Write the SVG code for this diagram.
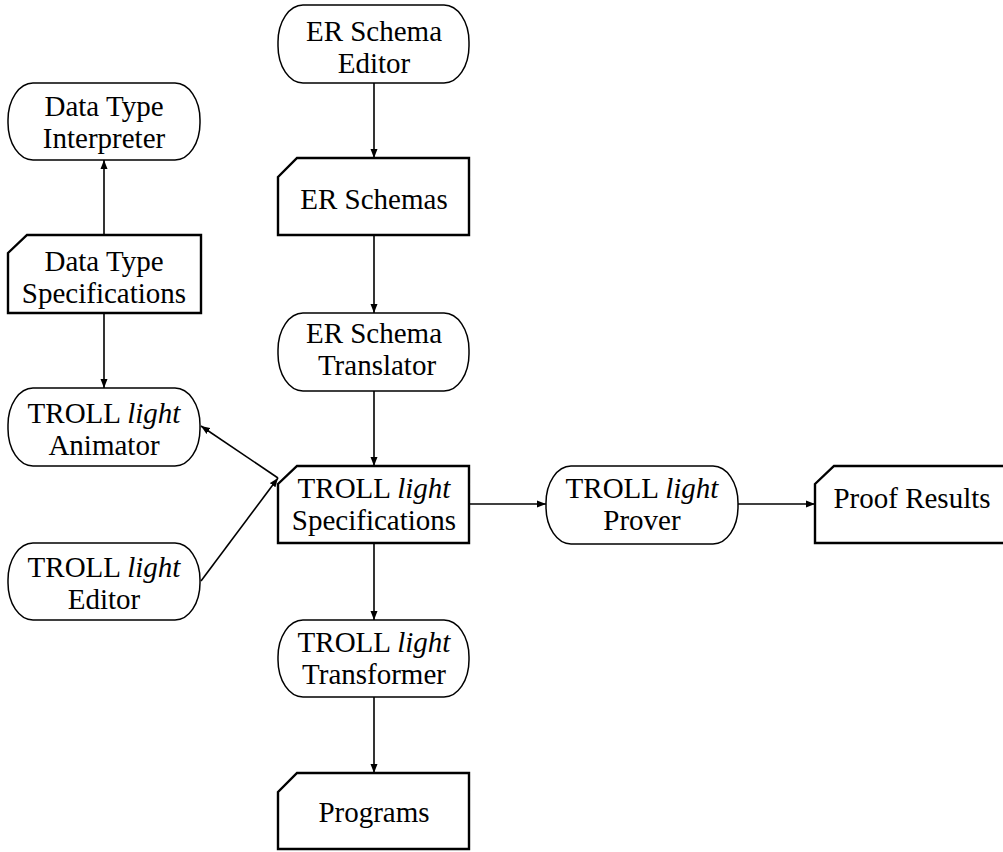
<svg xmlns="http://www.w3.org/2000/svg" width="1003" height="852" viewBox="0 0 1003 852">
<style>
.proc{fill:#fff;stroke:#000;stroke-width:1.5}
.doc{fill:#fff;stroke:#000;stroke-width:2.4;stroke-linejoin:miter}
.t{font-family:'Liberation Serif','DejaVu Serif',serif;font-size:29px;text-anchor:middle;fill:#000}
.i{font-style:italic}
.c{stroke:#000;stroke-width:1.6;fill:none}
</style>
<defs>
<marker id="ah" markerWidth="10" markerHeight="8" refX="9" refY="4" orient="auto" markerUnits="userSpaceOnUse">
<path d="M0,0.5 L9,4 L0,7.5 Z" fill="#000"/>
</marker>
</defs>
<g id="connectors">
<line class="c" x1="374" y1="83" x2="374" y2="158" marker-end="url(#ah)"/>
<line class="c" x1="374" y1="235" x2="374" y2="313" marker-end="url(#ah)"/>
<line class="c" x1="374" y1="391" x2="374" y2="466" marker-end="url(#ah)"/>
<line class="c" x1="374" y1="544" x2="374" y2="620" marker-end="url(#ah)"/>
<line class="c" x1="374" y1="697" x2="374" y2="773" marker-end="url(#ah)"/>
<line class="c" x1="104" y1="235" x2="104" y2="160" marker-end="url(#ah)"/>
<line class="c" x1="104" y1="313" x2="104" y2="388" marker-end="url(#ah)"/>
<line class="c" x1="278" y1="478" x2="201" y2="426" marker-end="url(#ah)"/>
<line class="c" x1="201" y1="581" x2="278" y2="478" marker-end="url(#ah)"/>
<line class="c" x1="469" y1="504" x2="546" y2="504" marker-end="url(#ah)"/>
<line class="c" x1="738" y1="504" x2="815" y2="504" marker-end="url(#ah)"/>
</g>
<g id="er-schema-editor">
<rect class="proc" x="278" y="5" width="191" height="78" rx="25" ry="37"/>
<text class="t" x="374" y="41">ER Schema</text>
<text class="t" x="374" y="73">Editor</text>
</g>
<g id="er-schemas">
<path class="doc" d="M278,177 L297,158 L469,158 L469,235 L278,235 Z"/>
<text class="t" x="374" y="209">ER Schemas</text>
</g>
<g id="er-schema-translator">
<rect class="proc" x="278" y="313" width="191" height="78" rx="25" ry="37"/>
<text class="t" x="374" y="343">ER Schema</text>
<text class="t" x="377" y="375">Translator</text>
</g>
<g id="troll-specifications">
<path class="doc" d="M278,484 L297,466 L469,466 L469,543 L278,543 Z"/>
<text class="t" x="374" y="498">TROLL <tspan class="i">light</tspan></text>
<text class="t" x="374" y="530">Specifications</text>
</g>
<g id="troll-transformer">
<rect class="proc" x="278" y="620" width="191" height="77" rx="25" ry="37"/>
<text class="t" x="374" y="652">TROLL <tspan class="i">light</tspan></text>
<text class="t" x="374" y="684">Transformer</text>
</g>
<g id="programs">
<path class="doc" d="M278,792 L297,773 L469,773 L469,849 L278,849 Z"/>
<text class="t" x="374" y="822">Programs</text>
</g>
<g id="data-type-interpreter">
<rect class="proc" x="8" y="83" width="192" height="77" rx="25" ry="37"/>
<text class="t" x="104" y="116">Data Type</text>
<text class="t" x="104" y="148">Interpreter</text>
</g>
<g id="data-type-specifications">
<path class="doc" d="M8,253 L27,235 L201,235 L201,313 L8,313 Z"/>
<text class="t" x="104" y="271">Data Type</text>
<text class="t" x="104" y="303">Specifications</text>
</g>
<g id="troll-animator">
<rect class="proc" x="8" y="388" width="192" height="78" rx="25" ry="37"/>
<text class="t" x="104" y="423">TROLL <tspan class="i">light</tspan></text>
<text class="t" x="104" y="455">Animator</text>
</g>
<g id="troll-editor">
<rect class="proc" x="8" y="543" width="192" height="77" rx="25" ry="37"/>
<text class="t" x="104" y="577">TROLL <tspan class="i">light</tspan></text>
<text class="t" x="104" y="609">Editor</text>
</g>
<g id="troll-prover">
<rect class="proc" x="546" y="466" width="192" height="78" rx="25" ry="37"/>
<text class="t" x="642" y="498">TROLL <tspan class="i">light</tspan></text>
<text class="t" x="642" y="530">Prover</text>
</g>
<g id="proof-results">
<path class="doc" d="M815,484 L834,466 L1008,466 L1008,543 L815,543 Z"/>
<text class="t" x="912" y="508">Proof Results</text>
</g>
</svg>
